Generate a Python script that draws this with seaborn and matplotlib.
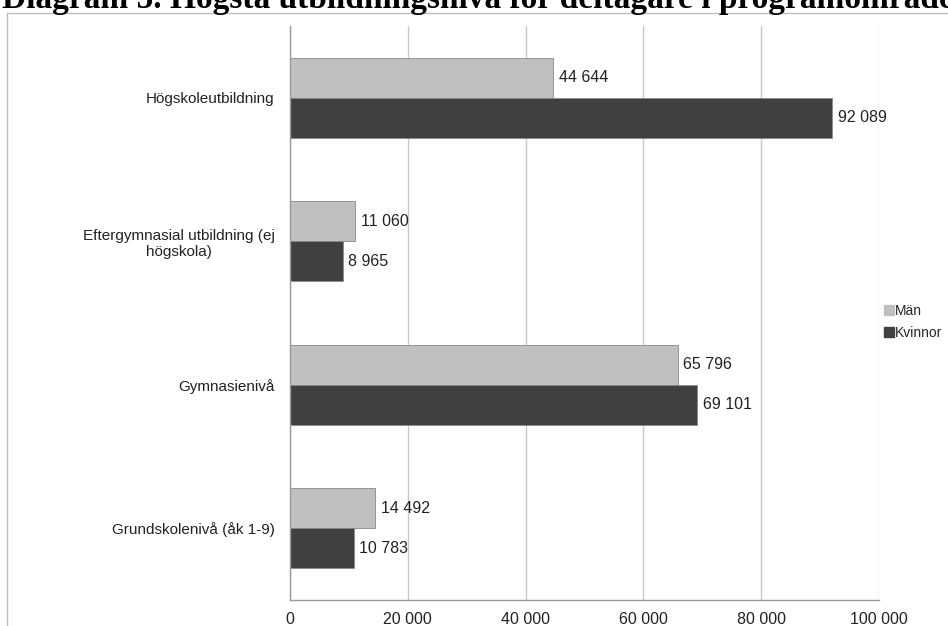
import pandas as pd
import matplotlib
matplotlib.use("Agg")
import matplotlib.pyplot as plt
import seaborn as sns

# data
categories = ["Högskoleutbildning",
              "Eftergymnasial utbildning (ej\nhögskola)",
              "Gymnasienivå",
              "Grundskolenivå (åk 1-9)"]
man = [44644, 11060, 65796, 14492]
kvinnor = [92089, 8965, 69101, 10783]
series = ["Män", "Kvinnor"]
xticks = [0, 20000, 40000, 60000, 80000, 100000]

df = pd.DataFrame({
    "kategori": categories * 2,
    "antal": man + kvinnor,
    "kon": [series[0]] * 4 + [series[1]] * 4,
})

sns.set_style("white")
plt.rcParams["font.family"] = ["Liberation Sans", "DejaVu Sans"]

W, H = 948, 626
fig = plt.figure(figsize=(W / 100, H / 100), dpi=100)
ax = fig.add_axes([290 / W, 1 - 600 / H, (879 - 290) / W, (600 - 26) / H])

palette = {"Män": "#c0c0c0", "Kvinnor": "#404040"}
sns.barplot(data=df, y="kategori", x="antal", hue="kon", orient="h",
            palette=palette, width=0.556, ax=ax, legend=False,
            edgecolor="#8a8a8a", linewidth=0.6, saturation=1)

ax.set_xlim(0, 100000)
ax.set_ylim(3.5, -0.5)
ax.set_xticks(xticks)
ax.set_xticklabels([f"{v:,}".replace(",", " ") for v in xticks], fontsize=11.5, color="#222222")
ax.xaxis.grid(True, color="#c8c8c8", linewidth=1)
ax.set_axisbelow(True)
ax.set_xlabel("")
ax.set_ylabel("")

# category labels in the middle, ticks on the boundaries
ax.set_yticks(range(len(categories)))
ax.set_yticklabels(categories, fontsize=11, color="#222222", ha="right",
                   multialignment="center")
ax.set_yticks([-0.5, 0.5, 1.5, 2.5, 3.5], minor=True)
ax.tick_params(axis="y", which="major", length=0, pad=11)
ax.tick_params(axis="y", which="minor", length=5, color="#999999", width=1, direction="out")
ax.tick_params(axis="x", which="major", length=4, color="#999999", width=1, direction="out", pad=5)

for s in ["top", "right"]:
    ax.spines[s].set_visible(False)
for s in ["left", "bottom"]:
    ax.spines[s].set_color("#999999")
    ax.spines[s].set_linewidth(1)

for cont in ax.containers:
    ax.bar_label(cont, labels=[f"{v:,.0f}".replace(",", " ") for v in cont.datavalues],
                 padding=4, fontsize=11.5, color="#222222")

# legend on the right
handles = [plt.Line2D([], [], marker="s", linestyle="", markersize=6.5,
                      markerfacecolor=palette[s], markeredgecolor=palette[s]) for s in series]
fig.legend(handles, series, loc="center left", bbox_to_anchor=(879 / W, 1 - 322 / H),
           frameon=False, fontsize=10, handlelength=0.5, handletextpad=0.15,
           labelspacing=0.55, borderpad=0)

# chart border, partly outside the picture
fig.patches.append(plt.Rectangle((7 / W, -0.2), 1.2, 0.2 + 1 - 13 / H, transform=fig.transFigure,
                                 fill=False, edgecolor="#bdbdbd", linewidth=1))

# title cut off at the top edge
fig.text(2 / W, 1 - 8 / H, "Diagram 5. Högsta utbildningsnivå för deltagare i programområde",
         fontsize=24, fontweight="bold", family=["Liberation Serif", "DejaVu Serif"],
         ha="left", va="baseline", color="black")

fig.savefig("out.png", dpi=100)
